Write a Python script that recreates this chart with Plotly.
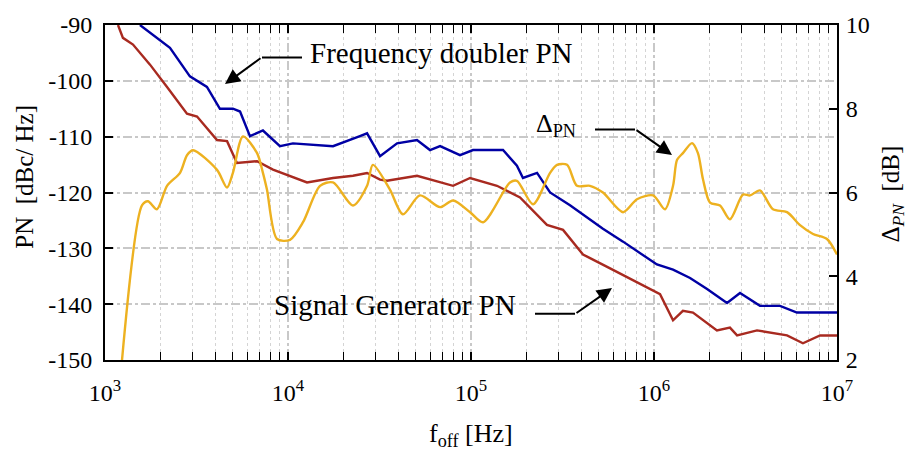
import plotly.graph_objects as go
import numpy as np

# ---- data (log10 of offset frequency, value) ----
doubler_logf = [3.191, 3.284, 3.355, 3.464, 3.557, 3.628, 3.699, 3.738, 3.792, 3.863, 3.956, 4.027,
                4.246, 4.393, 4.432, 4.503, 4.596, 4.705, 4.776, 4.831, 4.940, 5.011, 5.175, 5.251,
                5.284, 5.361, 5.432, 5.541, 5.721, 5.831, 5.978, 6.016, 6.104, 6.197, 6.290, 6.399,
                6.470, 6.579, 6.689, 6.781, 6.891, 7.0]
doubler_pn = [-90.0, -92.3, -94.1, -99.2, -101.1, -105.0, -105.0, -105.5, -109.9, -108.9, -111.7, -111.2,
              -111.7, -109.9, -109.4, -113.5, -111.2, -110.6, -112.4, -111.7, -113.3, -112.4, -112.4, -115.2,
              -117.4, -116.5, -120.0, -122.3, -126.5, -128.8, -132.0, -132.9, -133.8, -135.3, -137.3, -139.8,
              -138.0, -140.3, -140.3, -141.5, -141.5, -141.5]

siggen_logf = [3.071, 3.098, 3.153, 3.246, 3.339, 3.448, 3.503, 3.612, 3.667, 3.721, 3.831, 3.918,
               4.104, 4.246, 4.355, 4.432, 4.503, 4.541, 4.705, 4.902, 4.995, 5.142, 5.268, 5.415,
               5.503, 5.612, 5.760, 5.923, 5.978, 6.033, 6.104, 6.158, 6.213, 6.344, 6.415, 6.454,
               6.563, 6.727, 6.814, 6.907, 7.0]
siggen_pn = [-90.0, -92.3, -93.5, -97.1, -101.1, -105.9, -106.4, -110.6, -110.8, -114.7, -114.4, -115.9,
             -118.2, -117.4, -117.0, -116.5, -117.7, -117.9, -117.0, -118.8, -117.4, -118.8, -120.9, -125.8,
             -126.7, -131.1, -133.6, -136.4, -137.3, -138.2, -142.9, -141.2, -141.5, -144.7, -144.2, -145.6,
             -144.7, -145.6, -147.0, -145.6, -145.6]

delta_logf = [3.093, 3.202, 3.235, 3.284, 3.339, 3.410, 3.448, 3.481, 3.612, 3.667, 3.699, 3.754,
              3.831, 3.863, 3.885, 3.940, 4.011, 4.082, 4.175, 4.246, 4.355, 4.432, 4.464, 4.557,
              4.628, 4.721, 4.831, 4.902, 4.995, 5.066, 5.213, 5.251, 5.339, 5.432, 5.470, 5.525,
              5.579, 5.650, 5.721, 5.831, 5.907, 5.995, 6.060, 6.104, 6.126, 6.158, 6.208, 6.240,
              6.268, 6.306, 6.361, 6.415, 6.486, 6.525, 6.579, 6.650, 6.727, 6.798, 6.869, 6.945, 7.0]
delta_db = [2.0, 5.69, 5.79, 5.60, 6.16, 6.47, 6.89, 7.01, 6.54, 6.12, 6.47, 7.34,
            6.94, 6.47, 6.07, 4.89, 4.87, 5.29, 6.16, 6.24, 5.69, 6.16, 6.66, 6.07,
            5.48, 5.93, 5.65, 5.81, 5.53, 5.29, 6.24, 6.28, 5.72, 6.47, 6.66, 6.66,
            6.16, 6.16, 6.00, 5.53, 5.84, 5.93, 5.60, 6.16, 6.78, 6.94, 7.18, 6.94,
            6.31, 5.76, 5.69, 5.36, 5.95, 5.93, 6.05, 5.60, 5.53, 5.22, 5.01, 4.89, 4.52]

x_tickvals = [1e3, 1e4, 1e5, 1e6, 1e7]
x_ticktext = ["10<sup>3</sup>", "10<sup>4</sup>", "10<sup>5</sup>", "10<sup>6</sup>", "10<sup>7</sup>"]
y_tickvals = [-150, -140, -130, -120, -110, -100, -90]
y_ticktext = ["-150", "-140", "-130", "-120", "-110", "-100", "-90"]
y2_tickvals = [2, 4, 6, 8, 10]
y2_ticktext = ["2", "4", "6", "8", "10"]

BLUE = "#0000a4"
RED = "#a82a20"
YELLOW = "#edb120"
FONT = "Liberation Serif"
GRID = "#c8c8c8"

fig = go.Figure()
fig.add_trace(go.Scatter(x=np.power(10.0, doubler_logf), y=doubler_pn, mode="lines",
                         line=dict(color=BLUE, width=2.4), showlegend=False))
fig.add_trace(go.Scatter(x=np.power(10.0, siggen_logf), y=siggen_pn, mode="lines",
                         line=dict(color=RED, width=2.4), showlegend=False))
fig.add_trace(go.Scatter(x=np.power(10.0, delta_logf), y=delta_db, mode="lines", yaxis="y2",
                         line=dict(color=YELLOW, width=2.4, shape="spline", smoothing=0.8),
                         showlegend=False, cliponaxis=True))

L, R, T, B = 105, 837, 20, 360
def px(xp):
    return (xp - L) / (R - L)
def py(yp):
    return (B - yp) / (B - T)

fig.update_layout(
    width=911, height=452,
    margin=dict(l=105, r=74, t=20, b=92),
    paper_bgcolor="white", plot_bgcolor="white",
    font=dict(family=FONT, size=24, color="black"),
    xaxis=dict(type="log", range=[3, 7], tickvals=x_tickvals, ticktext=x_ticktext,
               ticks="inside", ticklen=8, tickwidth=1.5, tickcolor="black",
               showline=True, linecolor="black", linewidth=2, mirror="allticks",
               showgrid=True, gridcolor=GRID, gridwidth=1.5, griddash="dashdot",
               minor=dict(ticks="inside", ticklen=5, tickwidth=1.2, tickcolor="black", dtick="D1",
                          showgrid=True, gridcolor="#d4d4d4", gridwidth=1, griddash="dot"),
               tickfont=dict(size=24), ticklabelstandoff=10,
               zeroline=False),
    yaxis=dict(range=[-150, -90], tickvals=y_tickvals, ticktext=y_ticktext,
               ticks="inside", ticklen=8, tickwidth=1.5, tickcolor="black",
               showline=True, linecolor="black", linewidth=2,
               showgrid=True, gridcolor=GRID, gridwidth=1.5, griddash="dashdot",
               tickfont=dict(size=24), ticklabelstandoff=6,
               zeroline=False),
    yaxis2=dict(range=[2, 10], tickvals=y2_tickvals, ticktext=y2_ticktext, overlaying="y", side="right",
                ticks="inside", ticklen=8, tickwidth=1.5, tickcolor="black",
                showline=True, linecolor="black", linewidth=2, showgrid=False,
                tickfont=dict(size=24), ticklabelstandoff=2,
                zeroline=False),
)

# annotation leader lines (in paper coords)
def seg(x0, y0, x1, y1):
    fig.add_shape(type="line", xref="paper", yref="paper", x0=px(x0), y0=py(y0), x1=px(x1), y1=py(y1),
                  line=dict(color="black", width=2))

def arrow(xt, yt, xh, yh):
    fig.add_annotation(xref="paper", yref="paper", x=px(xh), y=py(yh), ax=xt - xh, ay=yt - yh,
                       axref="pixel", ayref="pixel", text="", showarrow=True,
                       arrowhead=2, arrowsize=1.5, arrowwidth=2, arrowcolor="black")

def label(text, xp, yp, anchor, size=24, angle=0):
    fig.add_annotation(xref="paper", yref="paper", x=px(xp), y=py(yp), text=text, showarrow=False,
                       xanchor=anchor, yanchor="middle", textangle=angle,
                       font=dict(family=FONT, size=size, color="black"))

# axis titles
label("f<sub>off</sub> [Hz]", 471, 436, "center", 26)
label("PN  [dBc/ Hz]", 25, 174, "center", 25, -90)
label("Δ<sub><i>PN</i></sub>  [dB]", 892, 192, "center", 25, -90)

label("Frequency doubler PN", 308, 48, "left", 29)
seg(302, 53, 262, 53)
arrow(262, 53, 225, 80)

label("Δ<sub>PN</sub>", 534, 121, "left", 26)
seg(595, 126, 635, 126)
arrow(635, 126, 672, 152)

label("Signal Generator PN", 518, 304, "right", 29)
seg(535, 313, 575, 313)
arrow(575, 313, 612, 287)

fig.write_html("out.html")
